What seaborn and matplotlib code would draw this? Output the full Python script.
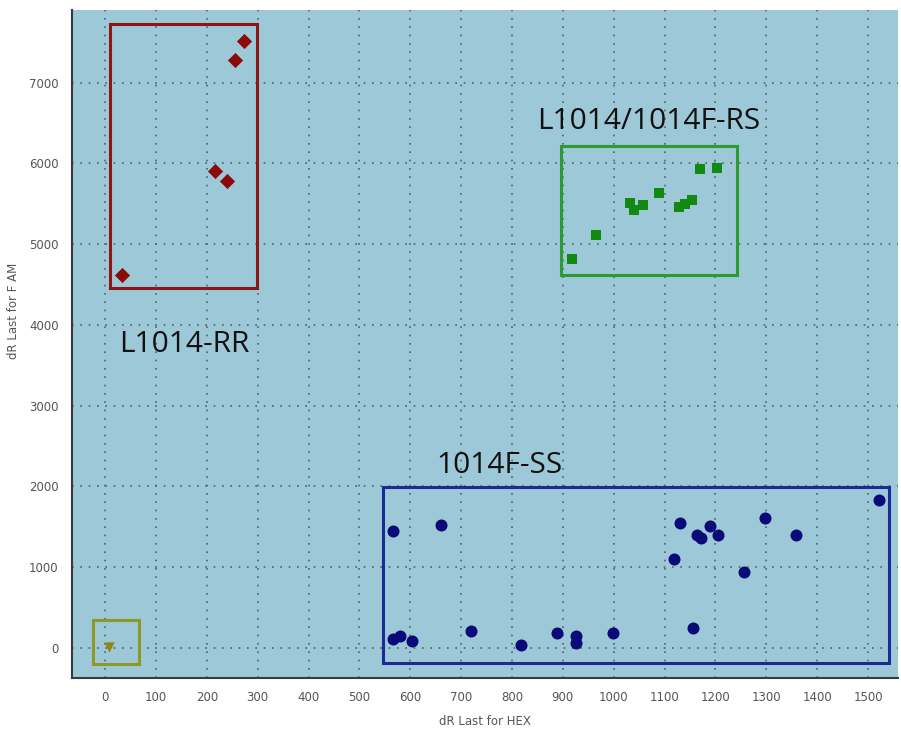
import numpy as np
import pandas as pd
import matplotlib
matplotlib.use("Agg")
import matplotlib.pyplot as plt
from matplotlib.patches import Rectangle
from matplotlib.ticker import MultipleLocator
import seaborn as sns

# ---- data ----
rr_hex = [33, 217, 239, 256, 273]
rr_fam = [4622, 5911, 5778, 7282, 7522]

rs_hex = [919, 966, 1032, 1040, 1057, 1090, 1129, 1141, 1154, 1170, 1204]
rs_fam = [4816, 5114, 5510, 5419, 5490, 5634, 5456, 5498, 5551, 5931, 5948]

ss_hex = [566, 661, 566, 579, 604, 719, 817, 889, 925, 925, 999,
          1119, 1131, 1164, 1172, 1189, 1206, 1155, 1257, 1297, 1359, 1522]
ss_fam = [1451, 1520, 102, 143, 78, 209, 29, 176, 143, 57, 176,
          1094, 1541, 1393, 1361, 1504, 1397, 242, 943, 1610, 1393, 1824]

ntc_hex = [8]
ntc_fam = [4]

groups = ["L1014-RR", "L1014/1014F-RS", "1014F-SS", "NTC"]
# group boxes: (hex_min, hex_max, fam_min, fam_max)
boxes = {
    "L1014-RR": (10, 298, 4452, 7732),
    "L1014/1014F-RS": (896, 1242, 4622, 6220),
    "1014F-SS": (546, 1542, -185, 1995),
    "NTC": (-23, 67, -198, 347),
}
# label positions (hex, fam) for the text annotations
label_pos = {
    "L1014-RR": (155, 3755),
    "L1014/1014F-RS": (1069, 6518),
    "1014F-SS": (776, 2255),
}

df = pd.concat([
    pd.DataFrame({"hex": rr_hex, "fam": rr_fam, "group": groups[0]}),
    pd.DataFrame({"hex": rs_hex, "fam": rs_fam, "group": groups[1]}),
    pd.DataFrame({"hex": ss_hex, "fam": ss_fam, "group": groups[2]}),
    pd.DataFrame({"hex": ntc_hex, "fam": ntc_fam, "group": groups[3]}),
], ignore_index=True)

point_colors = {"L1014-RR": "#8b0a0a", "L1014/1014F-RS": "#128a12",
                "1014F-SS": "#0a0a78", "NTC": "#8a8a10"}
box_colors = {"L1014-RR": "#8c1616", "L1014/1014F-RS": "#2f9a2f",
              "1014F-SS": "#1c2a96", "NTC": "#8c9a24"}
markers = {"L1014-RR": "D", "L1014/1014F-RS": "s", "1014F-SS": "o", "NTC": "v"}
sizes = {"L1014-RR": 60, "L1014/1014F-RS": 55, "1014F-SS": 75, "NTC": 55}

sns.set_style("white")
plt.rcParams["font.family"] = ["DejaVu Sans"]

fig = plt.figure(figsize=(9.01, 7.29), dpi=100)
ax = fig.add_axes([0.0799, 0.0700, 0.9168, 0.9163])
ax.set_facecolor("#9dc8d8")

for g in groups:
    sub = df[df["group"] == g]
    sns.scatterplot(data=sub, x="hex", y="fam", ax=ax, color=point_colors[g],
                    marker=markers[g], s=sizes[g], edgecolor=point_colors[g],
                    linewidth=0, legend=False, zorder=4)

for g, (x0, x1, y0, y1) in boxes.items():
    ax.add_patch(Rectangle((x0, y0), x1 - x0, y1 - y0, fill=False,
                           edgecolor=box_colors[g], linewidth=2.2, zorder=3))

for g, (lx, ly) in label_pos.items():
    ax.text(lx, ly, g, ha="center", va="center", fontsize=21.5,
            family=["Open Sans", "DejaVu Sans"], color="#111111", zorder=5)

ax.set_xlim(-65, 1559)
ax.set_ylim(-375, 7900)
ax.xaxis.set_major_locator(MultipleLocator(100))
ax.xaxis.set_minor_locator(MultipleLocator(50))
ax.yaxis.set_major_locator(MultipleLocator(1000))
ax.yaxis.set_minor_locator(MultipleLocator(500))

ax.grid(True, which="major", color="#556066", linestyle=(0, (1, 4)), linewidth=1.2, zorder=1)
ax.set_axisbelow(True)

for s in ["top", "right"]:
    ax.spines[s].set_visible(False)
for s in ["left", "bottom"]:
    ax.spines[s].set_color("#333d40")
    ax.spines[s].set_linewidth(1.5)

ax.tick_params(which="both", direction="inout", color="#333d40", width=1.3)
ax.tick_params(which="major", length=7, labelsize=8.5, labelcolor="#555555", pad=6)
ax.tick_params(which="minor", length=5)

ax.set_xlabel("dR Last for HEX", fontsize=8.5, color="#555555", labelpad=8)
ax.set_ylabel("dR Last for F AM", fontsize=8.5, color="#555555", labelpad=10)
ax.yaxis.set_label_coords(-0.063, 0.55)

fig.savefig("out.png", dpi=100, facecolor="white")
